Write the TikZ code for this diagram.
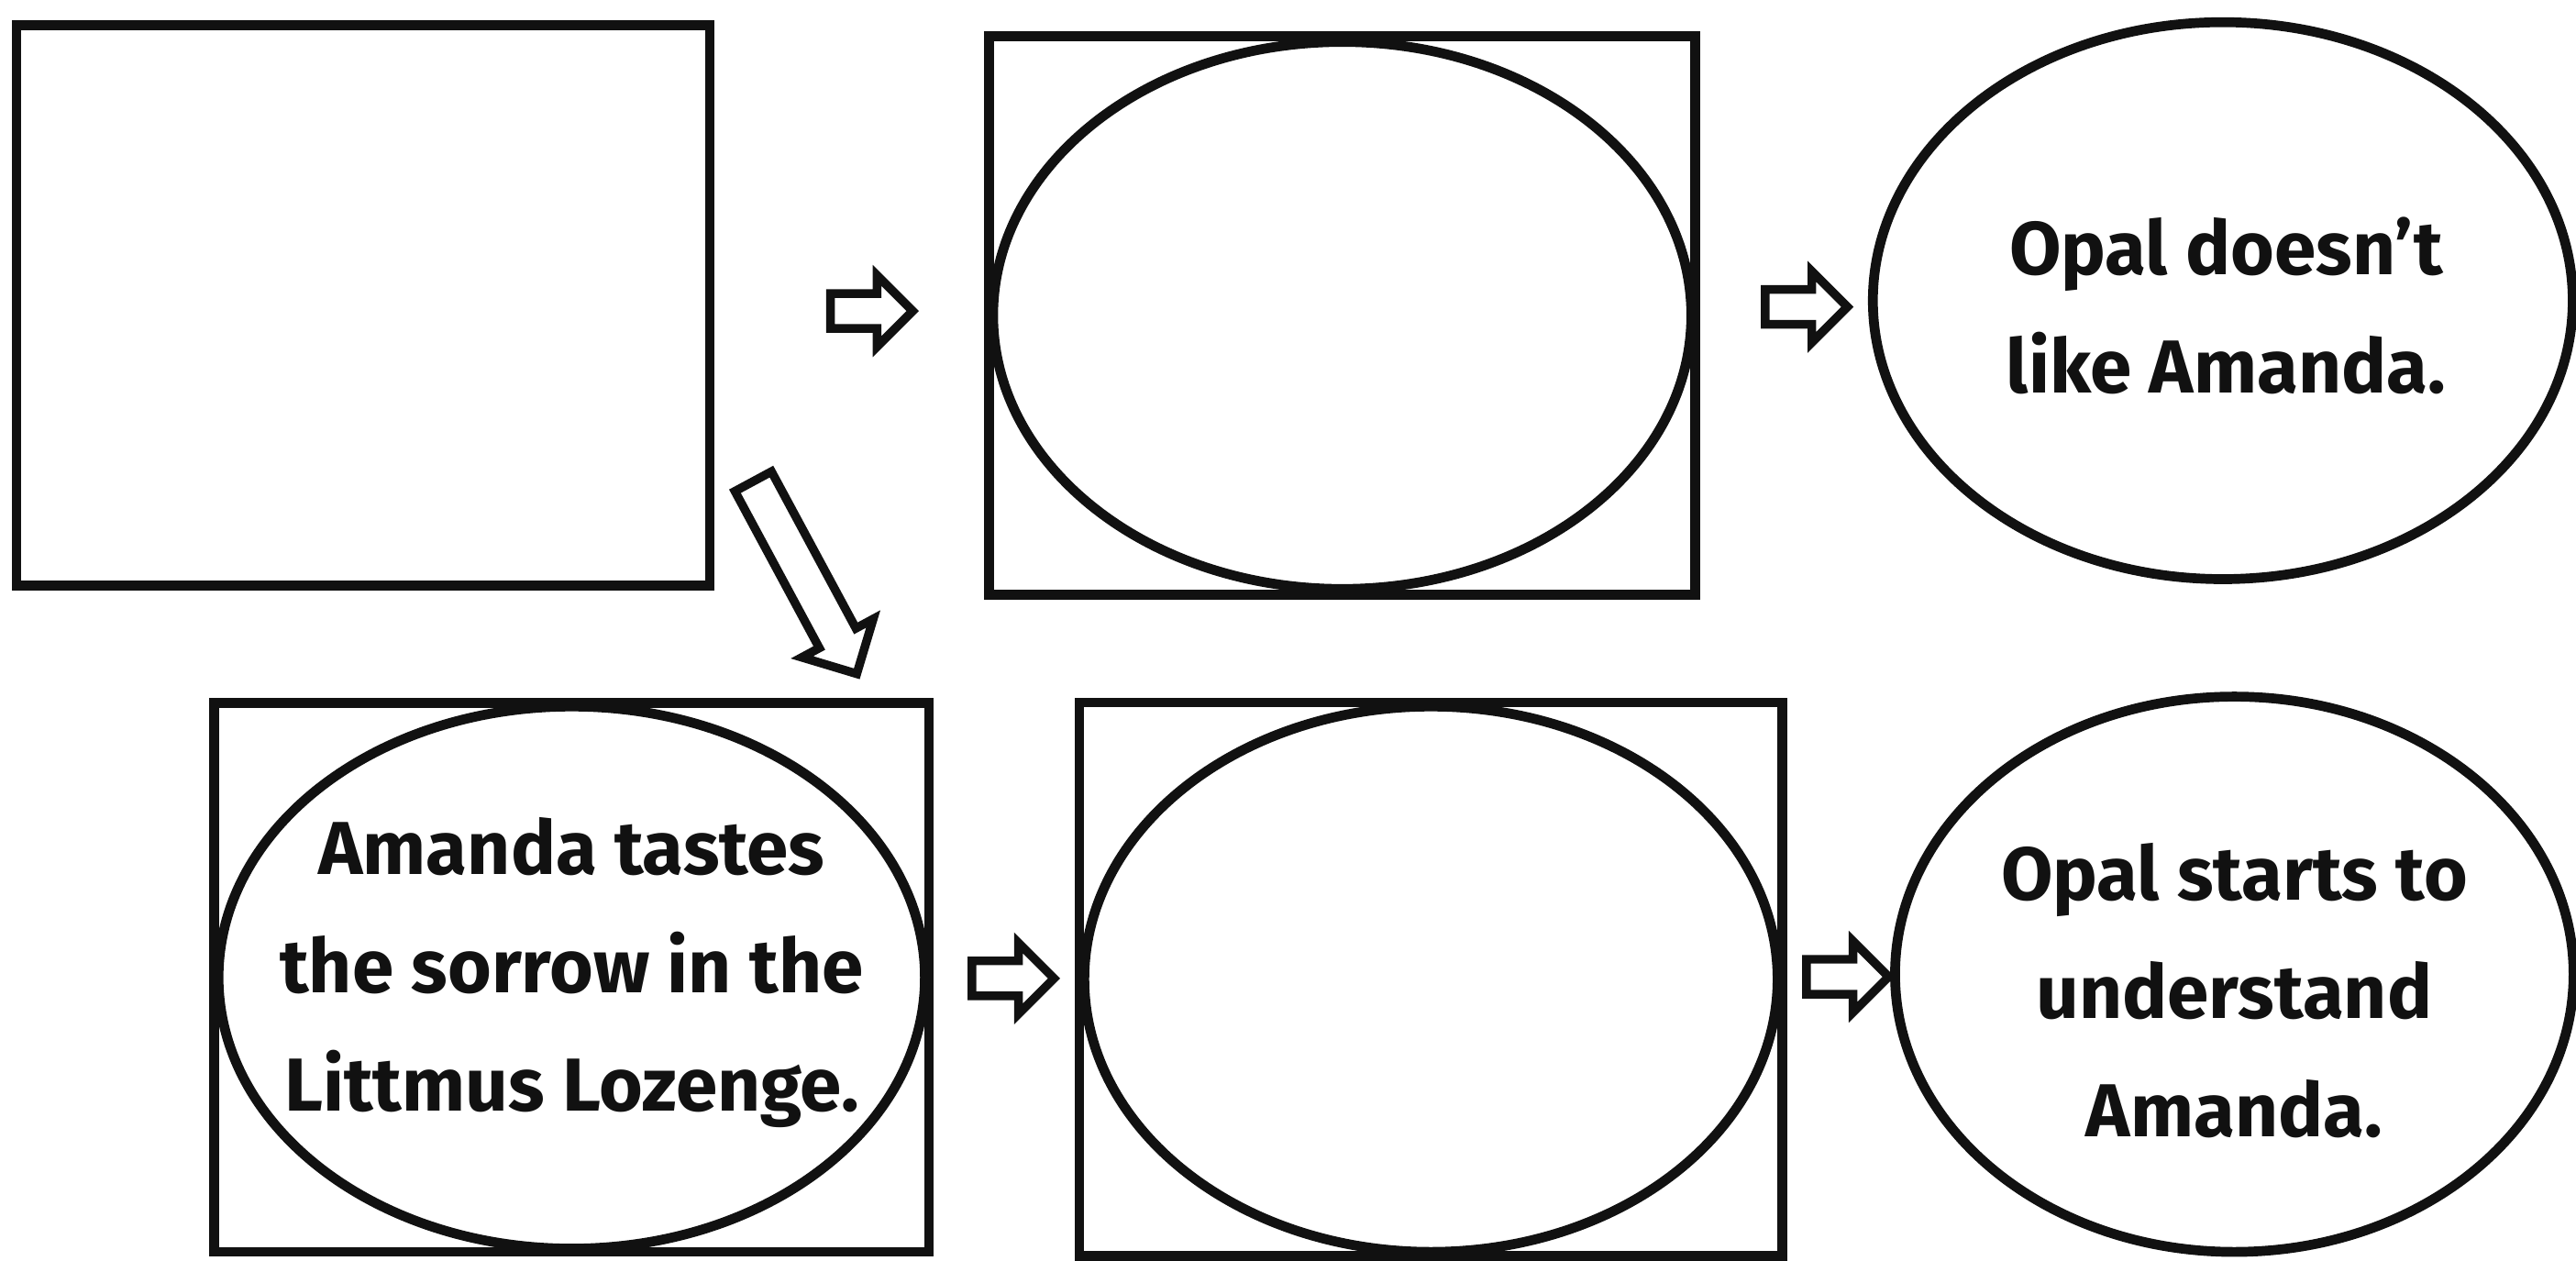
\documentclass[tikz,border=0pt]{standalone}
\usepackage{fontspec}
\setmainfont{Fira Sans}
\usepackage{tikz}
\usetikzlibrary{calc,shapes.geometric,shapes.arrows}
\definecolor{kalem}{HTML}{111111}

\tikzset{
  frame/.style={draw=kalem,line width=1.7pt,rectangle,inner sep=0pt},
  oval/.style={draw=kalem,line width=1.7pt,ellipse,inner sep=0pt},
  words/.style={align=center,inner sep=0pt,text=kalem,
    font=\fontsize{13}{20.5}\selectfont\bfseries},
  fatarrow/.style={draw=kalem,line width=1.5pt,single arrow,inner sep=0.08cm,
    single arrow head extend=0.11cm,minimum height=0.5cm,fill=white}
}

\begin{document}
\begin{tikzpicture}[scale=1.0]
\useasboundingbox (0,0) rectangle (15.68,7.67);
% top row
\node[frame,minimum width=4.22cm,minimum height=3.41cm] (b1) at (2.21,5.81) {};
\node[frame,minimum width=4.30cm,minimum height=3.40cm] (b2) at (8.17,5.75) {};
\node[oval,minimum width=4.25cm,minimum height=3.33cm] (o2) at (b2) {};
\node[oval,minimum width=4.26cm,minimum height=3.39cm] (o3) at (13.53,5.84) {};
\node[words] (t3) at ($(o3)+(0.02,-0.03)$) {Opal doesn't\\like Amanda.};
% bottom row
\node[frame,minimum width=4.35cm,minimum height=3.34cm] (b4) at (3.48,1.72) {};
\node[oval,minimum width=4.30cm,minimum height=3.30cm] (o4) at (b4) {};
\node[words] (t4) at ($(o4)+(0,0.03)$) {Amanda tastes\\the sorrow in the\\Littmus Lozenge.};
\node[frame,minimum width=4.28cm,minimum height=3.37cm] (b5) at (8.71,1.71) {};
\node[oval,minimum width=4.22cm,minimum height=3.32cm] (o5) at (b5) {};
\node[oval,minimum width=4.13cm,minimum height=3.38cm] (o6) at (13.60,1.74) {};
\node[words] (t6) at ($(o6)+(0,-0.1)$) {Opal starts to\\understand\\Amanda.};
% arrows
\node[fatarrow] (a1) at ($(b1.east)!0.55!(b2.west)$) {};
\node[fatarrow] (a2) at ($(b2.east)!0.58!(o3.west)$) {};
\node[fatarrow] (a4) at ($(b4.east)!0.5!(b5.west)$) {};
\node[fatarrow] (a5) at ($(b5.east)!0.5!(o6.west)$) {};
\node[fatarrow,inner sep=0.1cm,single arrow head extend=0.12cm,minimum height=1.33cm,
  rotate=-61.7] (a3) at (4.87,4.21) {};
\end{tikzpicture}
\end{document}
